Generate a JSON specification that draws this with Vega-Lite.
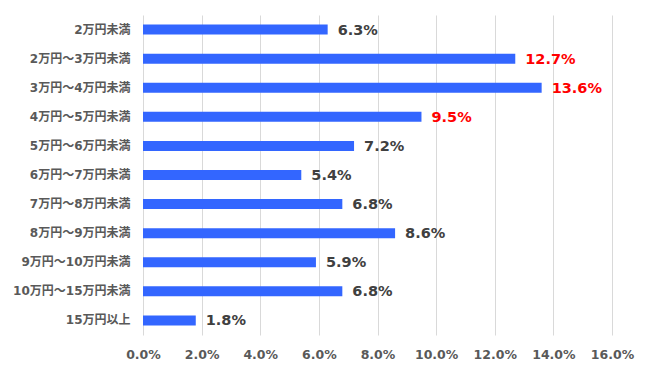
{
  "$schema": "https://vega.github.io/schema/vega-lite/v6.json",
  "autosize": "none",
  "width": 469,
  "height": 320,
  "padding": {"left": 143, "top": 15, "right": 38, "bottom": 35},
  "background": "white",
  "data": {"values": [
    {"band": "2万円未満", "share": 0.063, "hi": false},
    {"band": "2万円～3万円未満", "share": 0.127, "hi": true},
    {"band": "3万円～4万円未満", "share": 0.136, "hi": true},
    {"band": "4万円～5万円未満", "share": 0.095, "hi": true},
    {"band": "5万円～6万円未満", "share": 0.072, "hi": false},
    {"band": "6万円～7万円未満", "share": 0.054, "hi": false},
    {"band": "7万円～8万円未満", "share": 0.068, "hi": false},
    {"band": "8万円～9万円未満", "share": 0.086, "hi": false},
    {"band": "9万円～10万円未満", "share": 0.059, "hi": false},
    {"band": "10万円～15万円未満", "share": 0.068, "hi": false},
    {"band": "15万円以上", "share": 0.018, "hi": false}
  ]},
  "encoding": {
    "y": {"field": "band", "type": "nominal", "sort": null, "title": null,
      "axis": {"domain": false, "ticks": false, "labelPadding": 13, "labelFont": "DejaVu Sans, Noto Sans CJK JP", "labelFontSize": 12, "labelFontWeight": "bold", "labelColor": "#595959"}},
    "x": {"field": "share", "type": "quantitative", "title": null,
      "scale": {"domain": [0, 0.16], "nice": false},
      "axis": {"values": [0, 0.02, 0.04, 0.06, 0.08, 0.1, 0.12, 0.14, 0.16], "format": ".1%", "labelOverlap": false, "labelFlush": false, "labelAlign": "center", "domain": false, "ticks": false, "grid": true, "gridColor": "#d9d9d9", "labelPadding": 13, "labelFont": "DejaVu Sans", "labelFontSize": 12.5, "labelFontWeight": "bold", "labelColor": "#595959"}}
  },
  "layer": [
    {"mark": {"type": "bar", "size": 10, "color": "#3366ff"}},
    {"mark": {"type": "text", "align": "left", "baseline": "middle", "dx": 10, "dy": 1, "font": "DejaVu Sans", "fontSize": 14.5, "fontWeight": "bold"},
      "encoding": {
        "text": {"field": "share", "type": "quantitative", "format": ".1%"},
        "color": {"condition": {"test": "datum.hi", "value": "#ff0000"}, "value": "#404040"}
      }}
  ],
  "config": {"view": {"stroke": null}}
}
